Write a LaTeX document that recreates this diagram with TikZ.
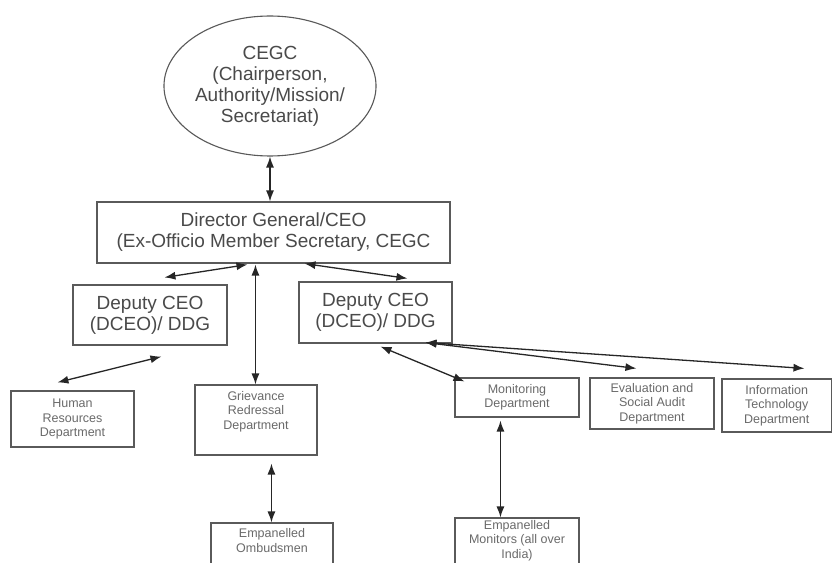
\documentclass[tikz,border=0pt]{standalone}
\usepackage{fontspec}
\setmainfont{Liberation Sans}
\usetikzlibrary{arrows.meta,calc,shapes.geometric}
\definecolor{txtgray}{HTML}{4A4A4A}
\definecolor{smallgray}{HTML}{6A6A6A}
\definecolor{boxgray}{HTML}{5A5A5A}
\tikzset{
  bigtxt/.style={font=\fontsize{19bp}{21bp}\selectfont, text=txtgray, align=center},
  smalltxt/.style={font=\fontsize{12.5bp}{14.5bp}\selectfont, text=smallgray, align=center, inner sep=0pt},
  box/.style={draw=boxgray, line width=1.1bp, inner sep=0pt},
  arr/.style={{Latex[length=11bp,width=8bp]}-{Latex[length=11bp,width=8bp]}, line width=1.3bp, draw=black!85}
}
\begin{document}
\begin{tikzpicture}[x=1bp,y=-1bp]
\useasboundingbox (0,0) rectangle (833,563);
\clip (0,0) rectangle (833,563);
\fill[white] (0,0) rectangle (833,563);
% top
\node[ellipse, draw=black!65, line width=1.1bp, minimum width=174bp, minimum height=140bp, inner sep=0pt, bigtxt] (cegc) at (270,86)
  {CEGC\\(Chairperson,\\Authority/Mission/\\Secretariat)};
\node[box, minimum width=353bp, minimum height=61bp, bigtxt] (dg) at (273.5,232.5)
  {Director General/CEO\\(Ex-Officio Member Secretary, CEGC};
\node[box, minimum width=154bp, minimum height=60bp, bigtxt] (dl) at (150,315)
  {Deputy CEO\\(DCEO)/ DDG};
\node[box, minimum width=153bp, minimum height=61bp, bigtxt] (dr) at (375.5,312.5)
  {Deputy CEO\\(DCEO)/ DDG};
% departments
\node[box, minimum width=123bp, minimum height=56bp, smalltxt] (hr) at (72.5,419)
  {Human\\Resources\\Department};
\node[box, minimum width=122bp, minimum height=70bp] (grv) at (256,420) {};
\node[smalltxt] (grvt) at (256,411.5) {Grievance\\Redressal\\Department};
\node[box, minimum width=122bp, minimum height=60bp] (omb) at (272,553) {};
\node[smalltxt] (ombt) at (272,540.5) {Empanelled\\Ombudsmen};
\node[box, minimum width=124bp, minimum height=39bp, smalltxt] (mon) at (517,397.5)
  {Monitoring\\Department};
\node[box, minimum width=124bp, minimum height=51bp, smalltxt] (eva) at (652,403.5)
  {Evaluation and\\Social Audit\\Department};
\node[box, minimum width=109.5bp, minimum height=53bp, smalltxt] (itd) at (776.75,405.5)
  {Information\\Technology\\Department};
\node[box, minimum width=124bp, minimum height=60bp] (mts) at (517,548) {};
\node[smalltxt] (mtst) at (517,540.5) {Empanelled\\Monitors (all over\\India)};
% connectors
\draw[arr] (cegc.south) -- (dg.north -| cegc.south);
\draw[arr] ($(dg.south west)+(151,1)$) -- ($(dl.north west)+(92,-7)$);
\draw[arr] ($(dg.south west)+(159,1)$) -- (grv.north -| {$(dg.south west)+(159,0)$});
\draw[arr] ($(dg.south west)+(208,0)$) -- ($(dr.north west)+(109,-3)$);
\draw[arr] ($(dl.south west)+(89,11)$) -- ($(hr.north west)+(47,-8)$);
\draw[arr] ($(grv.south west)+(77,8)$) -- (omb.north -| {$(grv.south west)+(77,0)$});
\draw[arr] ($(dr.south west)+(82,3)$) -- ($(mon.north west)+(10,4)$);
\draw[arr] ($(dr.south west)+(127,-1)$) -- ($(eva.north west)+(47,-9)$);
\draw[arr] ($(dr.south west)+(127,-1)$) -- ($(itd.north west)+(83,-10)$);
\draw[arr] ($(mon.south west)+(46,3)$) -- (mts.north -| {$(mon.south west)+(46,0)$});
\end{tikzpicture}
\end{document}
